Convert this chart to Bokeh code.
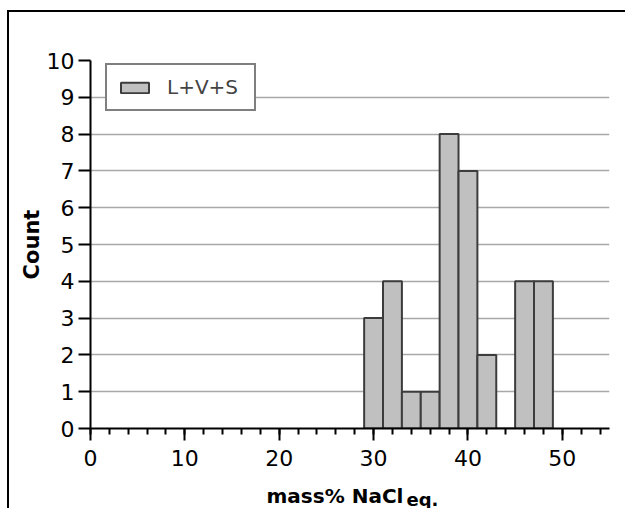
from bokeh.plotting import figure
from bokeh.models import (Range1d, SingleIntervalTicker, FixedTicker, Label,
                          Legend, LegendItem, ColumnDataSource, InlineStyleSheet)
from bokeh.embed import file_html
from bokeh.resources import INLINE

# Histogram bins (mass% NaCl equivalent), 2-unit wide bins
bin_left = [29, 31, 33, 35, 37, 39, 41, 43, 45, 47]
bin_right = [31, 33, 35, 37, 39, 41, 43, 45, 47, 49]
counts = [3, 4, 1, 1, 8, 7, 2, 0, 4, 4]
series_name = "L+V+S"
x_title = "mass% NaCl"
x_title_sub = "eq."
y_title = "Count"

FONT = "DejaVu Sans"

src = ColumnDataSource(dict(
    left=bin_left, right=bin_right, top=counts,
    bottom=[0] * len(counts),
))

p = figure(
    width=625, height=508,
    x_range=Range1d(0, 55), y_range=Range1d(0, 10),
    output_backend="svg", toolbar_location=None,
    min_border_left=90, min_border_right=16,
    min_border_top=60, min_border_bottom=80,
)
p.outline_line_color = None
p.background_fill_color = "white"
p.border_fill_alpha = 0
# outer chart border: left and top edges, painted behind the transparent canvas border
p.stylesheets = [InlineStyleSheet(css=(
    ":host { overflow: hidden; background: "
    "linear-gradient(#000, #000) 7px 10px / 2px 100% no-repeat, "
    "linear-gradient(#000, #000) 7px 10px / 100% 2px no-repeat, #fff; }"
))]

bars = p.quad(left="left", right="right", top="top", bottom="bottom", source=src,
              fill_color="#c0c0c0", line_color="#3c3c3c", line_width=2)

# axes
xa = p.xaxis[0]
ya = p.yaxis[0]
xa.ticker = SingleIntervalTicker(interval=10, num_minor_ticks=5)
ya.ticker = SingleIntervalTicker(interval=1, num_minor_ticks=0)
for ax in (xa, ya):
    ax.axis_line_width = 2
    ax.axis_line_color = "black"
    ax.major_tick_line_width = 2
    ax.major_tick_line_color = "black"
    ax.minor_tick_line_width = 2
    ax.minor_tick_line_color = "black"
    ax.major_tick_in = 0
    ax.major_tick_out = 12
    ax.minor_tick_in = 0
    ax.minor_tick_out = 6
    ax.major_label_text_font = FONT
    ax.major_label_text_font_size = "22px"
    ax.major_label_text_color = "black"
xa.major_label_standoff = 9
ya.major_label_standoff = 4

ya.axis_label = y_title
ya.axis_label_text_font = FONT
ya.axis_label_text_font_size = "21px"
ya.axis_label_text_font_style = "bold"
ya.axis_label_text_color = "black"
ya.axis_label_standoff = 0

# grid: horizontal lines only, between 1 and 9
p.xgrid.grid_line_color = None
p.ygrid.ticker = FixedTicker(ticks=list(range(1, 10)))
p.ygrid.grid_line_color = "#a8a8a8"
p.ygrid.grid_line_width = 1.5

# x title with a subscript part, in canvas coordinates (kept out of the frame clip)
p.add_layout(Label(x=266, y=495, x_units="canvas", y_units="canvas",
                   text=x_title, text_font=FONT, text_font_size="20px",
                   text_font_style="bold", text_baseline="middle",
                   text_color="black"), "above")
p.add_layout(Label(x=406, y=499, x_units="canvas", y_units="canvas",
                   text=x_title_sub, text_font=FONT, text_font_size="18px",
                   text_font_style="bold", text_baseline="middle",
                   text_color="black"), "above")

legend = Legend(
    items=[LegendItem(label=series_name, renderers=[bars])],
    location=(15, 317),
    border_line_color="black", border_line_width=2,
    background_fill_color="white", background_fill_alpha=1,
    label_text_font=FONT, label_text_font_size="20px",
    glyph_width=35, glyph_height=13, label_standoff=15,
    label_width=77, label_height=24,
    padding=10, spacing=0, margin=0,
)
p.add_layout(legend)

open("out.html", "w").write(file_html(p, INLINE))
